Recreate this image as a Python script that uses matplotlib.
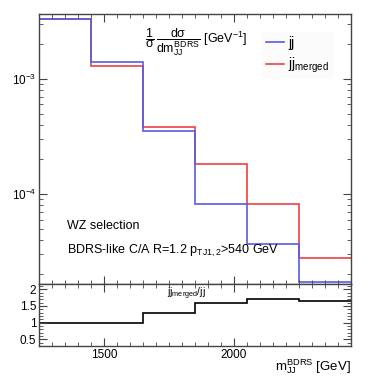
import matplotlib
matplotlib.use('Agg')
import matplotlib.pyplot as plt
from matplotlib.ticker import MultipleLocator, LogLocator, FixedLocator, NullFormatter

plt.rcParams['font.family'] = ['Liberation Sans', 'DejaVu Sans']
plt.rcParams['mathtext.fontset'] = 'custom'
plt.rcParams['mathtext.rm'] = 'Liberation Sans'
plt.rcParams['mathtext.it'] = 'Liberation Sans'
plt.rcParams['mathtext.bf'] = 'Liberation Sans'

# bin edges in m_JJ (GeV)
edges = [1250, 1450, 1650, 1850, 2050, 2250, 2450]
# normalised distributions
jj = [3.34e-3, 1.41e-3, 3.52e-4, 8.2e-5, 3.7e-5, 1.72e-5]
jj_merged = [3.33e-3, 1.29e-3, 3.79e-4, 1.83e-4, 8.2e-5, 2.79e-5]
# ratio panel
ratio = [1.0, 1.0, 1.29, 1.6, 1.72, 1.66]

blue = '#5a5ae6'
red = '#f04040'
axcol = '#444444'

fig = plt.figure(figsize=(3.9, 3.79), dpi=100)
ax = fig.add_axes([39/390, 1-284/379, 312/390, 270/379])
rax = fig.add_axes([39/390, 1-346/379, 312/390, 62/379], sharex=ax)

ax.stairs(jj_merged, edges, baseline=None, color=red, lw=1.2, label='jj$_{\\mathrm{merged}}$')
ax.stairs(jj, edges, baseline=None, color=blue, lw=1.2, label='jj')
rax.stairs(ratio, edges, baseline=None, color='black', lw=1.2)

ax.set_yscale('log')
ax.set_ylim(1.65e-5, 3.67e-3)
ax.set_xlim(1250, 2450)
rax.set_ylim(0.3, 2.16)

for a in (ax, rax):
    for s in a.spines.values():
        s.set_color(axcol)
        s.set_linewidth(1.0)
    a.tick_params(which='both', direction='in', top=True, right=True, color=axcol, labelsize=8.5, pad=2)
    a.tick_params(which='major', length=6)
    a.tick_params(which='minor', length=3)
    a.xaxis.set_major_locator(MultipleLocator(500))
    a.xaxis.set_minor_locator(MultipleLocator(50))

ax.tick_params(labelbottom=False)
ax.yaxis.set_major_locator(LogLocator(base=10, numticks=10))
ax.yaxis.set_minor_locator(LogLocator(base=10, subs=range(2, 10), numticks=20))
ax.yaxis.set_minor_formatter(NullFormatter())

rax.yaxis.set_major_locator(FixedLocator([0.5, 1, 1.5, 2]))
rax.yaxis.set_minor_locator(MultipleLocator(0.1))
rax.set_yticklabels(['0.5', '1', '1.5', '2'])

# legend
handles, labels = ax.get_legend_handles_labels()
leg = ax.legend(handles[::-1], labels[::-1], loc='upper left', bbox_to_anchor=(0.715, 0.935),
                fontsize=10, handlelength=1.3, handletextpad=0.3, labelspacing=0.45,
                frameon=True, fancybox=False, borderaxespad=0, borderpad=0.3)
leg.get_frame().set_facecolor('#fafafa')
leg.get_frame().set_edgecolor('none')

ax.text(0.34, 0.895, r'$\dfrac{1}{\sigma}\,\dfrac{d\sigma}{dm_{JJ}^{BDRS}}$ [GeV$^{-1}$]',
        transform=ax.transAxes, fontsize=9, va='center', ha='left')
ax.text(0.09, 0.215, 'WZ selection', transform=ax.transAxes, fontsize=9, va='center')
ax.text(0.09, 0.122, 'BDRS-like C/A R=1.2 p$_{\\mathrm{TJ1,2}}$>540 GeV',
        transform=ax.transAxes, fontsize=9, va='center')

rax.text(0.41, 0.84, 'jj$_{\\mathrm{merged}}$/jj', transform=rax.transAxes, fontsize=7.5, va='center')

fig.text(351/390, 1-367/379, 'm$_{\\mathrm{JJ}}^{\\mathrm{BDRS}}$ [GeV]', fontsize=9.5, ha='right', va='center')

fig.savefig('out.png', dpi=100)
